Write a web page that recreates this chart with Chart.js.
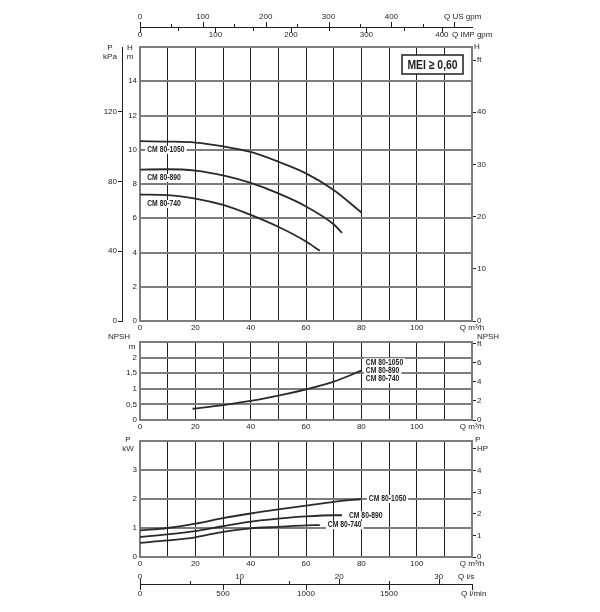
<!DOCTYPE html>
<html>
<head>
<meta charset="utf-8">
<script src="https://cdn.jsdelivr.net/npm/chart.js@4"></script>
<style>
  body { margin: 0; background: #fff; }
  #wrap { position: relative; width: 600px; height: 612px; }
  canvas { position: absolute; left: 0; top: 0; }
</style>
</head>
<body>
<div id="wrap">
  <canvas id="head" width="600" height="612"></canvas>
  <canvas id="npsh" width="600" height="612"></canvas>
  <canvas id="power" width="600" height="612"></canvas>
</div>
<script>
// ---- data (Q in m3/h) ----
const models = ["CM 80-1050", "CM 80-890", "CM 80-740"];

// Q-H curves, H in m
const qH1050 = [0, 10, 20, 30, 40, 50, 60, 70, 80];
const hH1050 = [10.5, 10.48, 10.42, 10.2, 9.87, 9.3, 8.62, 7.65, 6.34];
const qH890 = [0, 10, 20, 30, 40, 50, 60, 70, 73];
const hH890 = [8.84, 8.86, 8.78, 8.5, 8.06, 7.45, 6.69, 5.65, 5.15];
const qH740 = [0, 10, 20, 30, 40, 50, 60, 65];
const hH740 = [7.38, 7.35, 7.15, 6.78, 6.2, 5.5, 4.64, 4.1];

// NPSH, m (same curve for all three)
const qNpsh = [19, 30, 40, 50, 60, 70, 80];
const npsh = [0.36, 0.48, 0.61, 0.78, 0.98, 1.23, 1.58];

// power P2, kW
const qP1050 = [0, 10, 20, 30, 40, 50, 60, 70, 80];
const p1050 = [0.92, 1.0, 1.15, 1.34, 1.5, 1.64, 1.77, 1.9, 2.0];
const qP890 = [0, 10, 20, 30, 40, 50, 60, 70, 73];
const p890 = [0.69, 0.78, 0.89, 1.06, 1.22, 1.32, 1.4, 1.44, 1.44];
const qP740 = [0, 10, 20, 30, 40, 50, 60, 65];
const p740 = [0.49, 0.57, 0.68, 0.87, 0.99, 1.04, 1.09, 1.1];

// axis ranges / labels
const qMax = 120;
const hMax = 16, npshMax = 2.5, pMax = 4;
const usGpmLabels = [0, 100, 200, 300, 400];
const impGpmLabels = [0, 100, 200, 300, 400];
const lsLabels = [0, 10, 20, 30];
const lminLabels = [0, 500, 1000, 1500];

// unit conversions
const US_GPM = 4.40287;      // US gpm per m3/h
const IMP_GPM = 3.66615;     // IMP gpm per m3/h
const LS = 1 / 3.6;          // l/s per m3/h
const LMIN = 1000 / 60;      // l/min per m3/h
const KPA = 9.80665;         // kPa per m
const FT = 1 / 0.3048;       // ft per m
const HP = 1 / 0.7457;       // HP per kW

// ---- look ----
const FONT = "'Liberation Sans', Arial, sans-serif";
const INK = '#1e1e1e';
const CURVE = '#2a2a2a';
const HLINE = '#7d7d7d';
const VLINE = '#1e1e1e';
const FRAME = '#7d7d7d';
const NONE = 'rgba(0,0,0,0)';
const TICK_FONT = '8px ' + FONT;
const LABEL_FONT = 'bold 8.5px ' + FONT;
const LABEL_SX = 0.8;

Chart.defaults.font.family = FONT;
Chart.defaults.font.size = 8;
Chart.defaults.color = INK;

const W = 600, H = 612, PLOT_L = 140, PLOT_R = 472, X_AXIS_H = 14;

function pts(xs, ys) {
  return xs.map((x, i) => ({ x: x, y: ys[i] }));
}

function curve(xs, ys) {
  return {
    data: pts(xs, ys),
    borderColor: CURVE,
    borderWidth: 1.8,
    pointRadius: 0,
    fill: false,
    tension: 0.4,
    cubicInterpolationMode: 'monotone'
  };
}

function text(ctx, s, x, y, align, font, sx) {
  ctx.save();
  ctx.font = font || TICK_FONT;
  ctx.fillStyle = INK;
  ctx.textBaseline = 'middle';
  ctx.textAlign = align || 'center';
  ctx.translate(x, y);
  ctx.scale(sx || 1, 1);
  ctx.fillText(s, 0, 0);
  ctx.restore();
}

function curveLabel(chart, s, q, v) {
  const ctx = chart.ctx;
  const x = chart.scales.x.getPixelForValue(q);
  const y = chart.scales.y.getPixelForValue(v);
  ctx.save();
  ctx.font = LABEL_FONT;
  const w = ctx.measureText(s).width * LABEL_SX;
  ctx.fillStyle = '#fff';
  ctx.fillRect(x - 2, y - 4, w + 4, 8);
  ctx.restore();
  text(ctx, s, x, y, 'left', LABEL_FONT, LABEL_SX);
}

// secondary flow axis drawn from the main Q scale
function auxAxis(chart, o) {
  const ctx = chart.ctx, xs = chart.scales.x;
  ctx.save();
  ctx.strokeStyle = INK;
  ctx.lineWidth = 1;
  for (let u = 0; u / o.k <= qMax + 1e-9; u += o.minor) {
    const x = Math.round(xs.getPixelForValue(u / o.k)) + 0.5;
    const len = (u % o.major === 0) ? 5 : 3;
    ctx.beginPath();
    ctx.moveTo(x, o.y);
    ctx.lineTo(x, o.y + o.dir * len);
    ctx.stroke();
  }
  ctx.restore();
  o.labels.forEach(u => text(ctx, String(u), xs.getPixelForValue(u / o.k), o.labelY));
}

function axisLine(chart, y) {
  const ctx = chart.ctx, xs = chart.scales.x;
  ctx.save();
  ctx.strokeStyle = INK;
  ctx.lineWidth = 1;
  ctx.beginPath();
  ctx.moveTo(xs.getPixelForValue(0), y + 0.5);
  ctx.lineTo(xs.getPixelForValue(qMax) + 1, y + 0.5);
  ctx.stroke();
  ctx.restore();
}

function qScale() {
  return {
    type: 'linear', min: 0, max: qMax,
    afterFit: s => { s.height = X_AXIS_H; },
    ticks: {
      stepSize: 10, autoSkip: false, maxRotation: 0, padding: 2,
      callback: v => v === qMax ? 'Q m³/h' : (v % 20 === 0 ? v : '')
    },
    grid: {
      drawTicks: false, lineWidth: 1,
      color: c => (c.tick && (c.tick.value === 0 || c.tick.value === qMax)) ? NONE : VLINE
    },
    border: { color: FRAME, width: 2 }
  };
}

function valueScale(max, step, leftW, fmt) {
  return {
    type: 'linear', position: 'left', weight: 0, min: 0, max: max,
    afterFit: s => { s.width = leftW; },
    ticks: {
      stepSize: step, padding: 3, includeBounds: false,
      callback: v => v === max ? '' : fmt(v)
    },
    grid: {
      drawTicks: false, lineWidth: 2,
      color: c => (c.tick && c.tick.value === 0) ? NONE : HLINE
    },
    border: { color: FRAME, width: 2 }
  };
}

function unitScale(max, step, topLabel) {
  return {
    type: 'linear', position: 'right', min: 0, max: max,
    afterFit: s => { s.width = W - PLOT_R; },
    ticks: {
      stepSize: step, padding: 1, includeBounds: false,
      callback: (v, i, arr) => i === arr.length - 1 ? topLabel : v
    },
    grid: { drawOnChartArea: false, tickLength: 4, color: INK, lineWidth: 1 },
    border: { color: FRAME, width: 2 }
  };
}

function makeChart(id, top, bottom, datasets, scales, draw) {
  return new Chart(document.getElementById(id), {
    type: 'line',
    data: { datasets: datasets },
    options: {
      responsive: false,
      animation: false,
      events: [],
      layout: { padding: { top: top, bottom: H - bottom - X_AXIS_H, left: 0, right: 0 } },
      plugins: { legend: { display: false }, tooltip: { enabled: false } },
      scales: scales
    },
    plugins: [{
      id: 'overlay',
      afterDraw(chart) { draw(chart, chart.ctx, chart.chartArea); }
    }]
  });
}

const comma = v => String(v).replace('.', ',');

// ---- Q-H ----
makeChart('head', 47, 321,
  [curve(qH1050, hH1050), curve(qH890, hH890), curve(qH740, hH740)],
  {
    x: qScale(),
    y: valueScale(hMax, 2, 18, v => v),
    kpa: {
      type: 'linear', position: 'left', weight: 1, min: 0, max: hMax * KPA,
      afterFit: s => { s.width = PLOT_L - 18; },
      ticks: { stepSize: 40, padding: 1, includeBounds: false },
      grid: { drawOnChartArea: false, tickLength: 4, color: INK, lineWidth: 1 },
      border: { color: INK, width: 1 }
    },
    ft: unitScale(hMax * FT, 10, 'ft')
  },
  (chart, ctx, a) => {
    text(ctx, 'P', 110, a.top + 1);
    text(ctx, 'kPa', 110, a.top + 10);
    text(ctx, 'H', 130, a.top + 1);
    text(ctx, 'm', 130, a.top + 10);
    text(ctx, 'H', a.right + 2, a.top, 'left');

    // flow scales above the chart
    const ly = a.top - 20;
    axisLine(chart, ly);
    auxAxis(chart, { y: ly, k: US_GPM, minor: 50, major: 100, labels: usGpmLabels, dir: -1, labelY: ly - 10 });
    auxAxis(chart, { y: ly + 1, k: IMP_GPM, minor: 50, major: 100, labels: impGpmLabels, dir: 1, labelY: ly + 8 });
    text(ctx, 'Q US gpm', a.right - 28, ly - 10, 'left');
    text(ctx, 'Q IMP gpm', a.right - 20, ly + 8, 'left');

    // MEI box
    ctx.save();
    ctx.fillStyle = '#fff';
    ctx.strokeStyle = INK;
    ctx.lineWidth = 1.5;
    ctx.fillRect(a.right - 70, a.top + 8, 61, 19);
    ctx.strokeRect(a.right - 70, a.top + 8, 61, 19);
    ctx.restore();
    text(ctx, 'MEI ≥ 0,60', a.right - 39.5, a.top + 18, 'center', 'bold 13px ' + FONT, 0.8);

    curveLabel(chart, models[0], 2.6, 10.0);
    curveLabel(chart, models[1], 2.6, 8.35);
    curveLabel(chart, models[2], 2.6, 6.83);
  });

// ---- NPSH ----
makeChart('npsh', 342, 420,
  [curve(qNpsh, npsh)],
  {
    x: qScale(),
    y: valueScale(npshMax, 0.5, PLOT_L, comma),
    ft: unitScale(npshMax * FT, 2, 'ft')
  },
  (chart, ctx, a) => {
    text(ctx, 'NPSH', 119, a.top - 5);
    text(ctx, 'm', 132, a.top + 5);
    text(ctx, 'NPSH', a.right + 16, a.top - 5);
    curveLabel(chart, models[0], 81.6, 1.85);
    curveLabel(chart, models[1], 81.6, 1.58);
    curveLabel(chart, models[2], 81.6, 1.31);
  });

// ---- power ----
makeChart('power', 441, 557,
  [curve(qP1050, p1050), curve(qP890, p890), curve(qP740, p740)],
  {
    x: qScale(),
    y: valueScale(pMax, 1, PLOT_L, v => v),
    hp: unitScale(pMax * HP, 1, 'HP')
  },
  (chart, ctx, a) => {
    text(ctx, 'P', 128, a.top - 1);
    text(ctx, 'kW', 128, a.top + 8);
    text(ctx, 'P', a.right + 3, a.top - 1, 'left');

    // flow scales below the chart
    const ly = a.bottom + 27;
    axisLine(chart, ly);
    auxAxis(chart, { y: ly, k: LS, minor: 5, major: 10, labels: lsLabels, dir: -1, labelY: ly - 7 });
    auxAxis(chart, { y: ly + 1, k: LMIN, minor: 500, major: 500, labels: lminLabels, dir: 1, labelY: ly + 10 });
    text(ctx, 'Q l/s', a.right - 14, ly - 7, 'left');
    text(ctx, 'Q l/min', a.right - 11, ly + 10, 'left');

    curveLabel(chart, models[0], 82.7, 2.0);
    curveLabel(chart, models[1], 75.5, 1.44);
    curveLabel(chart, models[2], 67.9, 1.1);
  });
</script>
</body>
</html>
